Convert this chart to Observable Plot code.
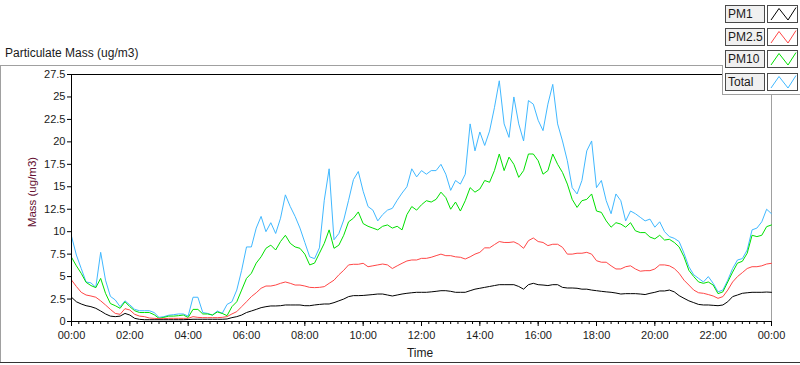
<!DOCTYPE html>
<html>
<head>
<meta charset="utf-8">
<script src="https://cdn.jsdelivr.net/npm/d3@7"></script>
<script src="https://cdn.jsdelivr.net/npm/@observablehq/plot@0.6"></script>
<style>
html,body{margin:0;padding:0;background:#fff;}
#wrap{position:relative;width:800px;height:365px;overflow:hidden;font-family:"Liberation Sans",Arial,sans-serif;color:#1a1a1a;}
#chart{position:absolute;left:0;top:0;}
.title{position:absolute;left:5px;top:46px;font-size:12px;line-height:14px;white-space:nowrap;}
.xlabel{position:absolute;left:380px;width:80px;text-align:center;top:346px;font-size:12px;line-height:14px;}
.ylabel{position:absolute;left:-8px;top:185px;width:80px;text-align:center;font-size:11.5px;line-height:14px;color:#661133;transform:rotate(-90deg);white-space:nowrap;}
.hline{position:absolute;height:1px;background:#a0a0a0;}
.vline{position:absolute;width:1px;background:#a0a0a0;}
.notch{position:absolute;left:723px;top:0;width:77px;height:94px;background:#fff;}
.lab{position:absolute;left:725px;width:36px;height:16px;border:1px solid #4a4a4a;background:#f0f0f0;font-size:12px;line-height:16px;padding-left:2px;box-sizing:content-box;}
.ico{position:absolute;left:767px;width:29px;height:16px;border:1px solid #4a4a4a;background:#fff;}
.ico svg{position:absolute;left:0;top:0;}
</style>
</head>
<body>
<div id="wrap">
  <div id="chart"></div>
</div>
<script>
// ---- data (10-minute readings, 00:00 -> 24:00) ----
const stepMinutes = 10;
const seriesNames = ["PM1", "PM2.5", "PM10", "Total"];
const seriesColors = ["#000000", "#ff4646", "#00e000", "#40b8ff"];

const total = [
  9.5, 7.4, 5.9, 4.4, 4.3, 3.8, 7.7, 4.6, 2.8, 2.4, 1.65, 2.3, 1.85, 1.35, 1.2, 1.2, 1.2, 1.0, 0.46, 0.54, 0.7, 0.76, 0.84, 0.84, 0.6,
  2.7, 2.7, 1.0, 0.9, 0.72, 1.17, 0.9, 1.9, 2.2, 3.5, 5.7, 8.3, 8.3, 10.4, 11.7, 10.0, 11.0, 9.8, 11.5, 14.1, 12.8, 11.7, 10.4, 8.8,
  7.2, 7.0, 8.2, 13.5, 17.0, 9.1, 9.8, 11.3, 13.5, 15.8, 16.7, 14.5, 12.8, 12.4, 11.2, 11.9, 12.4, 12.6, 13.5, 14.3, 15.0, 17.0, 16.1, 16.8,
  16.4, 16.8, 16.8, 17.5, 16.4, 14.6, 15.7, 15.3, 16.4, 22.0, 19.0, 21.1, 19.6, 21.2, 23.8, 26.8, 22.0, 20.5, 25.0, 22.0, 20.1, 24.6, 24.2, 22.4,
  21.25, 24.2, 26.4, 22.0, 20.1, 17.9, 14.9, 14.2, 15.7, 19.0, 20.1, 14.9, 15.7, 13.45, 12.0, 14.2, 13.45, 11.2, 12.3, 12.0, 11.6, 11.2, 11.4, 10.5,
  11.1, 10.0, 9.45, 9.26, 8.9, 7.6, 6.1, 5.2, 4.8, 4.4, 5.0, 4.25, 3.3, 3.5, 4.6, 5.9, 6.85, 7.0, 7.96, 10.2, 10.4, 11.1, 12.5, 12.0
];
const pm10 = [
  7.15, 6.2, 5.36, 4.36, 4.0, 3.77, 4.8, 3.14, 2.0, 1.76, 1.47, 2.2, 1.65, 1.2, 1.0, 1.0, 1.0, 0.76, 0.35, 0.46, 0.6, 0.6, 0.65, 0.72, 0.45,
  1.35, 1.35, 0.84, 0.84, 0.72, 1.06, 0.9, 0.65, 1.65, 2.2, 3.5, 4.8, 5.37, 6.5, 7.2, 8.15, 8.5, 7.96, 8.9, 9.6, 8.7, 8.3, 8.15, 7.5,
  6.3, 6.5, 7.6, 8.7, 10.2, 8.15, 8.5, 9.6, 11.1, 11.5, 12.2, 10.9, 10.6, 10.4, 10.2, 10.6, 10.75, 10.4, 10.6, 10.2, 11.9, 12.8, 12.4, 13.0,
  13.45, 13.3, 13.6, 14.4, 13.8, 12.5, 13.3, 12.3, 13.45, 14.9, 14.4, 14.75, 15.7, 15.5, 16.8, 18.65, 16.8, 18.3, 17.5, 16.05, 16.8, 18.65, 18.65, 17.9,
  16.4, 16.8, 18.65, 17.5, 16.6, 15.3, 13.6, 12.7, 13.45, 13.6, 14.2, 12.3, 12.15, 11.2, 10.5, 11.0, 10.85, 10.5, 11.0, 10.1, 9.9, 9.9, 9.4, 9.2,
  9.6, 9.07, 9.15, 8.8, 8.3, 7.2, 5.7, 5.0, 4.4, 4.25, 4.4, 4.06, 3.1, 3.3, 4.4, 5.5, 6.5, 6.7, 7.6, 9.6, 9.45, 9.6, 10.56, 10.75
];
const pm25 = [
  4.62, 3.9, 3.25, 2.95, 2.84, 2.7, 2.3, 1.84, 1.35, 0.9, 0.8, 1.43, 1.28, 0.8, 0.6, 0.54, 0.39, 0.35, 0.32, 0.32, 0.35, 0.35, 0.35, 0.35, 0.35,
  0.54, 0.46, 0.43, 0.43, 0.43, 0.43, 0.46, 0.54, 0.84, 1.1, 1.65, 2.2, 2.77, 3.2, 3.7, 3.95, 3.95, 4.06, 4.25, 4.4, 4.25, 4.06, 4.06, 3.95,
  3.8, 3.77, 3.8, 3.88, 4.25, 4.6, 5.2, 5.7, 6.3, 6.37, 6.37, 6.48, 6.1, 6.2, 6.3, 6.4, 6.3, 5.9, 6.2, 6.48, 6.74, 6.85, 6.85, 7.03,
  7.03, 7.15, 7.33, 7.5, 7.33, 7.33, 7.2, 7.15, 6.96, 7.2, 7.5, 7.7, 8.2, 8.2, 8.56, 8.9, 8.8, 8.8, 8.87, 8.6, 8.15, 9.0, 9.3, 8.9,
  8.8, 8.45, 8.6, 8.6, 8.26, 7.5, 7.5, 7.6, 7.6, 7.7, 7.5, 6.77, 6.6, 6.6, 6.2, 5.85, 5.85, 6.1, 6.2, 5.85, 5.6, 5.66, 5.66, 5.85,
  6.3, 6.3, 6.2, 5.9, 5.37, 4.6, 4.06, 3.5, 3.2, 3.14, 3.0, 2.84, 2.58, 2.77, 3.5, 4.4, 5.0, 5.44, 5.9, 6.1, 6.1, 6.2, 6.4, 6.48
];
const pm1 = [
  2.7, 2.2, 1.95, 1.76, 1.65, 1.47, 1.17, 0.84, 0.6, 0.54, 0.6, 0.9, 0.72, 0.35, 0.24, 0.2, 0.2, 0.2, 0.2, 0.2, 0.2, 0.2, 0.2, 0.2, 0.22,
  0.25, 0.25, 0.25, 0.25, 0.25, 0.25, 0.25, 0.28, 0.43, 0.54, 0.72, 1.0, 1.17, 1.35, 1.54, 1.65, 1.73, 1.73, 1.76, 1.84, 1.84, 1.84, 1.84, 1.76,
  1.76, 1.84, 1.9, 1.95, 1.95, 2.1, 2.3, 2.5, 2.77, 2.88, 2.88, 2.9, 2.95, 3.0, 3.06, 3.06, 2.95, 2.84, 2.95, 3.06, 3.14, 3.2, 3.25, 3.25,
  3.25, 3.3, 3.36, 3.43, 3.43, 3.36, 3.25, 3.25, 3.25, 3.43, 3.6, 3.7, 3.8, 3.9, 4.0, 4.1, 4.1, 4.1, 4.1, 3.9, 3.6, 4.1, 4.25, 4.1,
  4.06, 4.0, 4.1, 4.1, 3.8, 3.73, 3.73, 3.7, 3.6, 3.6, 3.5, 3.43, 3.36, 3.3, 3.25, 3.17, 3.06, 3.1, 3.1, 3.1, 3.06, 3.0, 3.14, 3.25,
  3.4, 3.4, 3.5, 3.3, 2.88, 2.58, 2.3, 2.1, 1.9, 1.84, 1.84, 1.8, 1.76, 1.84, 2.2, 2.77, 2.95, 3.14, 3.2, 3.25, 3.25, 3.25, 3.28, 3.25
];

const xTickHours = [0, 2, 4, 6, 8, 10, 12, 14, 16, 18, 20, 22, 24];
const xTickLabels = ["00:00", "02:00", "04:00", "06:00", "08:00", "10:00", "12:00", "14:00", "16:00", "18:00", "20:00", "22:00", "00:00"];
const yTicks = [0, 2.5, 5, 7.5, 10, 12.5, 15, 17.5, 20, 22.5, 25, 27.5];

const titleText = "Particulate Mass (ug/m3)";
const xLabel = "Time";
const yLabel = "Mass (ug/m3)";

// ---- build ----
const lens = [total.length, pm10.length, pm25.length, pm1.length];
if (lens.some(n => n !== 145)) throw new Error("length mismatch " + lens.join(","));

const hours = total.map((_, i) => i * stepMinutes / 60);
const valuesBySeries = {"PM1": pm1, "PM2.5": pm25, "PM10": pm10, "Total": total};
const rows = [];
for (const name of ["Total", "PM10", "PM2.5", "PM1"]) {
  valuesBySeries[name].forEach((v, i) => rows.push({series: name, hour: hours[i], value: v}));
}
const minorTicks = d3.range(0, 24.001, 0.25);

const plot = Plot.plot({
  width: 800,
  height: 365,
  marginLeft: 71,
  marginRight: 29,
  marginTop: 74,
  marginBottom: 44,
  style: {fontFamily: '"Liberation Sans", Arial, sans-serif', fontSize: "11px", color: "#1a1a1a", background: "transparent"},
  x: {domain: [0, 24], label: null},
  y: {domain: [0, 27.5], label: null},
  color: {domain: seriesNames, range: seriesColors},
  marks: [
    Plot.ruleY([27.5], {stroke: "#000"}),
    Plot.ruleX([24], {stroke: "#a0a0a0"}),
    Plot.line(rows, {x: "hour", y: "value", z: "series", stroke: "series", strokeWidth: 1, strokeLinejoin: "miter"}),
    Plot.ruleX([0], {stroke: "#000"}),
    Plot.ruleY([0], {stroke: "#000"}),
    Plot.axisY({ticks: yTicks, tickSize: 4, tickPadding: 2, tickFormat: d => String(d), label: null, stroke: "#000"}),
    Plot.axisX({ticks: minorTicks, tickSize: 3, tickFormat: () => "", label: null, stroke: "#000"}),
    Plot.axisX({ticks: xTickHours, tickSize: 5, tickPadding: 5, tickFormat: d => xTickLabels[xTickHours.indexOf(d)], label: null, stroke: "#000"})
  ]
});
document.getElementById("chart").appendChild(plot);

const wrap = document.getElementById("wrap");
function add(cls, styleText, text) {
  const el = document.createElement("div");
  el.className = cls;
  if (styleText) el.setAttribute("style", styleText);
  if (text != null) el.textContent = text;
  wrap.appendChild(el);
  return el;
}
// outer panel frame
add("hline", "left:0;top:65px;width:723px;");
add("vline", "left:0;top:65px;height:298px;");
add("vline", "left:722px;top:65px;height:30px;");
add("notch", "");
add("hline", "left:722px;top:94px;width:78px;");
add("hline", "left:0;top:362px;width:800px;background:#333;");
add("vline", "left:722px;top:65px;height:30px;");
add("hline", "left:722px;top:94px;width:78px;");

add("title", "", titleText);
add("xlabel", "", xLabel);
add("ylabel", "", yLabel);

// legend
const rowTops = [5, 28, 50, 73];
seriesNames.forEach((name, i) => {
  add("lab", "top:" + rowTops[i] + "px;", name);
  const ico = add("ico", "top:" + rowTops[i] + "px;");
  const ns = "http://www.w3.org/2000/svg";
  const svg = document.createElementNS(ns, "svg");
  svg.setAttribute("width", 29); svg.setAttribute("height", 16);
  const pl = document.createElementNS(ns, "polyline");
  pl.setAttribute("points", "3,14 11,2.5 20,14 28,1.5");
  pl.setAttribute("fill", "none");
  pl.setAttribute("stroke", seriesColors[i]);
  pl.setAttribute("stroke-width", "1");
  svg.appendChild(pl);
  ico.appendChild(svg);
});
</script>
</body>
</html>
